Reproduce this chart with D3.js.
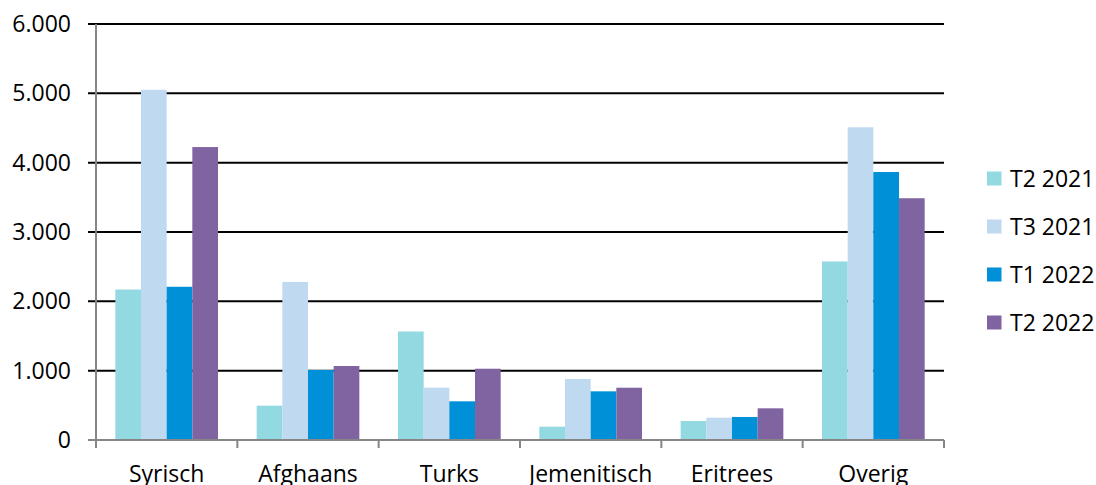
<!DOCTYPE html>
<html>
<head>
<meta charset="utf-8">
<script src="https://cdn.jsdelivr.net/npm/d3@7"></script>
<style>
  body { margin: 0; background: #fff; }
  svg { display: block; font-family: "Open Sans", "Liberation Sans", sans-serif; }
</style>
</head>
<body>
<svg id="chart" width="1096" height="485"></svg>
<script>
  // data
  const categories = ['Syrisch', 'Afghaans', 'Turks', 'Jemenitisch', 'Eritrees', 'Overig'];
  const seriesNames = ['T2 2021', 'T3 2021', 'T1 2022', 'T2 2022'];
  const t2_2021 = [2170, 495, 1565, 192, 274, 2575];
  const t3_2021 = [5050, 2280, 755, 880, 322, 4510];
  const t1_2022 = [2210, 1010, 558, 702, 332, 3865];
  const t2_2022 = [4225, 1067, 1028, 754, 457, 3487];
  const yTicks = [0, 1000, 2000, 3000, 4000, 5000, 6000];
  const colors = ['#92d9e1', '#bfd9f1', '#0090d8', '#8064a2'];

  (function(){
    const seriesValues = [t2_2021, t3_2021, t1_2022, t2_2022];

    const plotLeft = 96, plotRight = 944, plotTop = 24, plotBottom = 440;
    const svg = d3.select('#chart');

    const x0 = d3.scaleBand().domain(categories).range([plotLeft, plotRight]).padding(0);
    const x1 = d3.scaleBand().domain(seriesNames).range([0, x0.bandwidth()])
        .paddingInner(0).paddingOuter(0.753);
    const y = d3.scaleLinear().domain([0, 6000]).range([plotBottom, plotTop]);
    const fmt = v => v === 0 ? '0' : d3.format(',')(v).replace(/,/g, '.');

    // gridlines
    svg.append('g').selectAll('line')
      .data(yTicks.filter(t => t > 0))
      .join('line')
        .attr('x1', plotLeft - 8).attr('x2', plotRight)
        .attr('y1', d => y(d)).attr('y2', d => y(d))
        .attr('stroke', '#000').attr('stroke-width', 2);

    // bars
    const groups = svg.append('g').selectAll('g')
      .data(categories)
      .join('g')
        .attr('transform', d => `translate(${x0(d)},0)`);

    groups.selectAll('rect')
      .data((c, i) => seriesNames.map((s, j) => ({ s: s, v: seriesValues[j][i], j: j })))
      .join('rect')
        .attr('x', d => x1(d.s))
        .attr('width', x1.bandwidth())
        .attr('y', d => y(d.v))
        .attr('height', d => plotBottom - y(d.v))
        .attr('fill', d => colors[d.j]);

    // axis lines
    svg.append('line')
      .attr('x1', plotLeft).attr('x2', plotLeft).attr('y1', plotTop).attr('y2', plotBottom + 8)
      .attr('stroke', '#868686').attr('stroke-width', 2);
    svg.append('line')
      .attr('x1', plotLeft - 8).attr('x2', plotRight).attr('y1', plotBottom).attr('y2', plotBottom)
      .attr('stroke', '#868686').attr('stroke-width', 2);

    svg.append('g').selectAll('text')
      .data(yTicks)
      .join('text')
        .attr('x', 71).attr('y', d => y(d))
        .attr('dy', '0.35em')
        .attr('text-anchor', 'end')
        .attr('font-size', 23)
        .attr('fill', '#000')
        .text(fmt);

    // category boundary ticks
    svg.append('g').selectAll('line')
      .data(categories.map(c => x0(c) + x0.bandwidth()))
      .join('line')
        .attr('x1', d => d).attr('x2', d => d)
        .attr('y1', plotBottom).attr('y2', plotBottom + 8)
        .attr('stroke', '#868686').attr('stroke-width', 2);

    svg.append('g').selectAll('text')
      .data(categories)
      .join('text')
        .attr('x', d => x0(d) + x0.bandwidth() / 2)
        .attr('y', 482)
        .attr('text-anchor', 'middle')
        .attr('font-size', 23)
        .attr('fill', '#000')
        .text(d => d);

    // legend
    const legend = svg.append('g').selectAll('g')
      .data(seriesNames)
      .join('g')
        .attr('transform', (d, i) => `translate(987,${178.5 + i * 48})`);
    legend.append('rect')
      .attr('x', 0).attr('y', -7).attr('width', 14.5).attr('height', 14)
      .attr('fill', (d, i) => colors[i]);
    legend.append('text')
      .attr('x', 23).attr('dy', '0.35em')
      .attr('font-size', 23)
      .attr('fill', '#000')
      .text(d => d);
  })();
</script>
</body>
</html>
